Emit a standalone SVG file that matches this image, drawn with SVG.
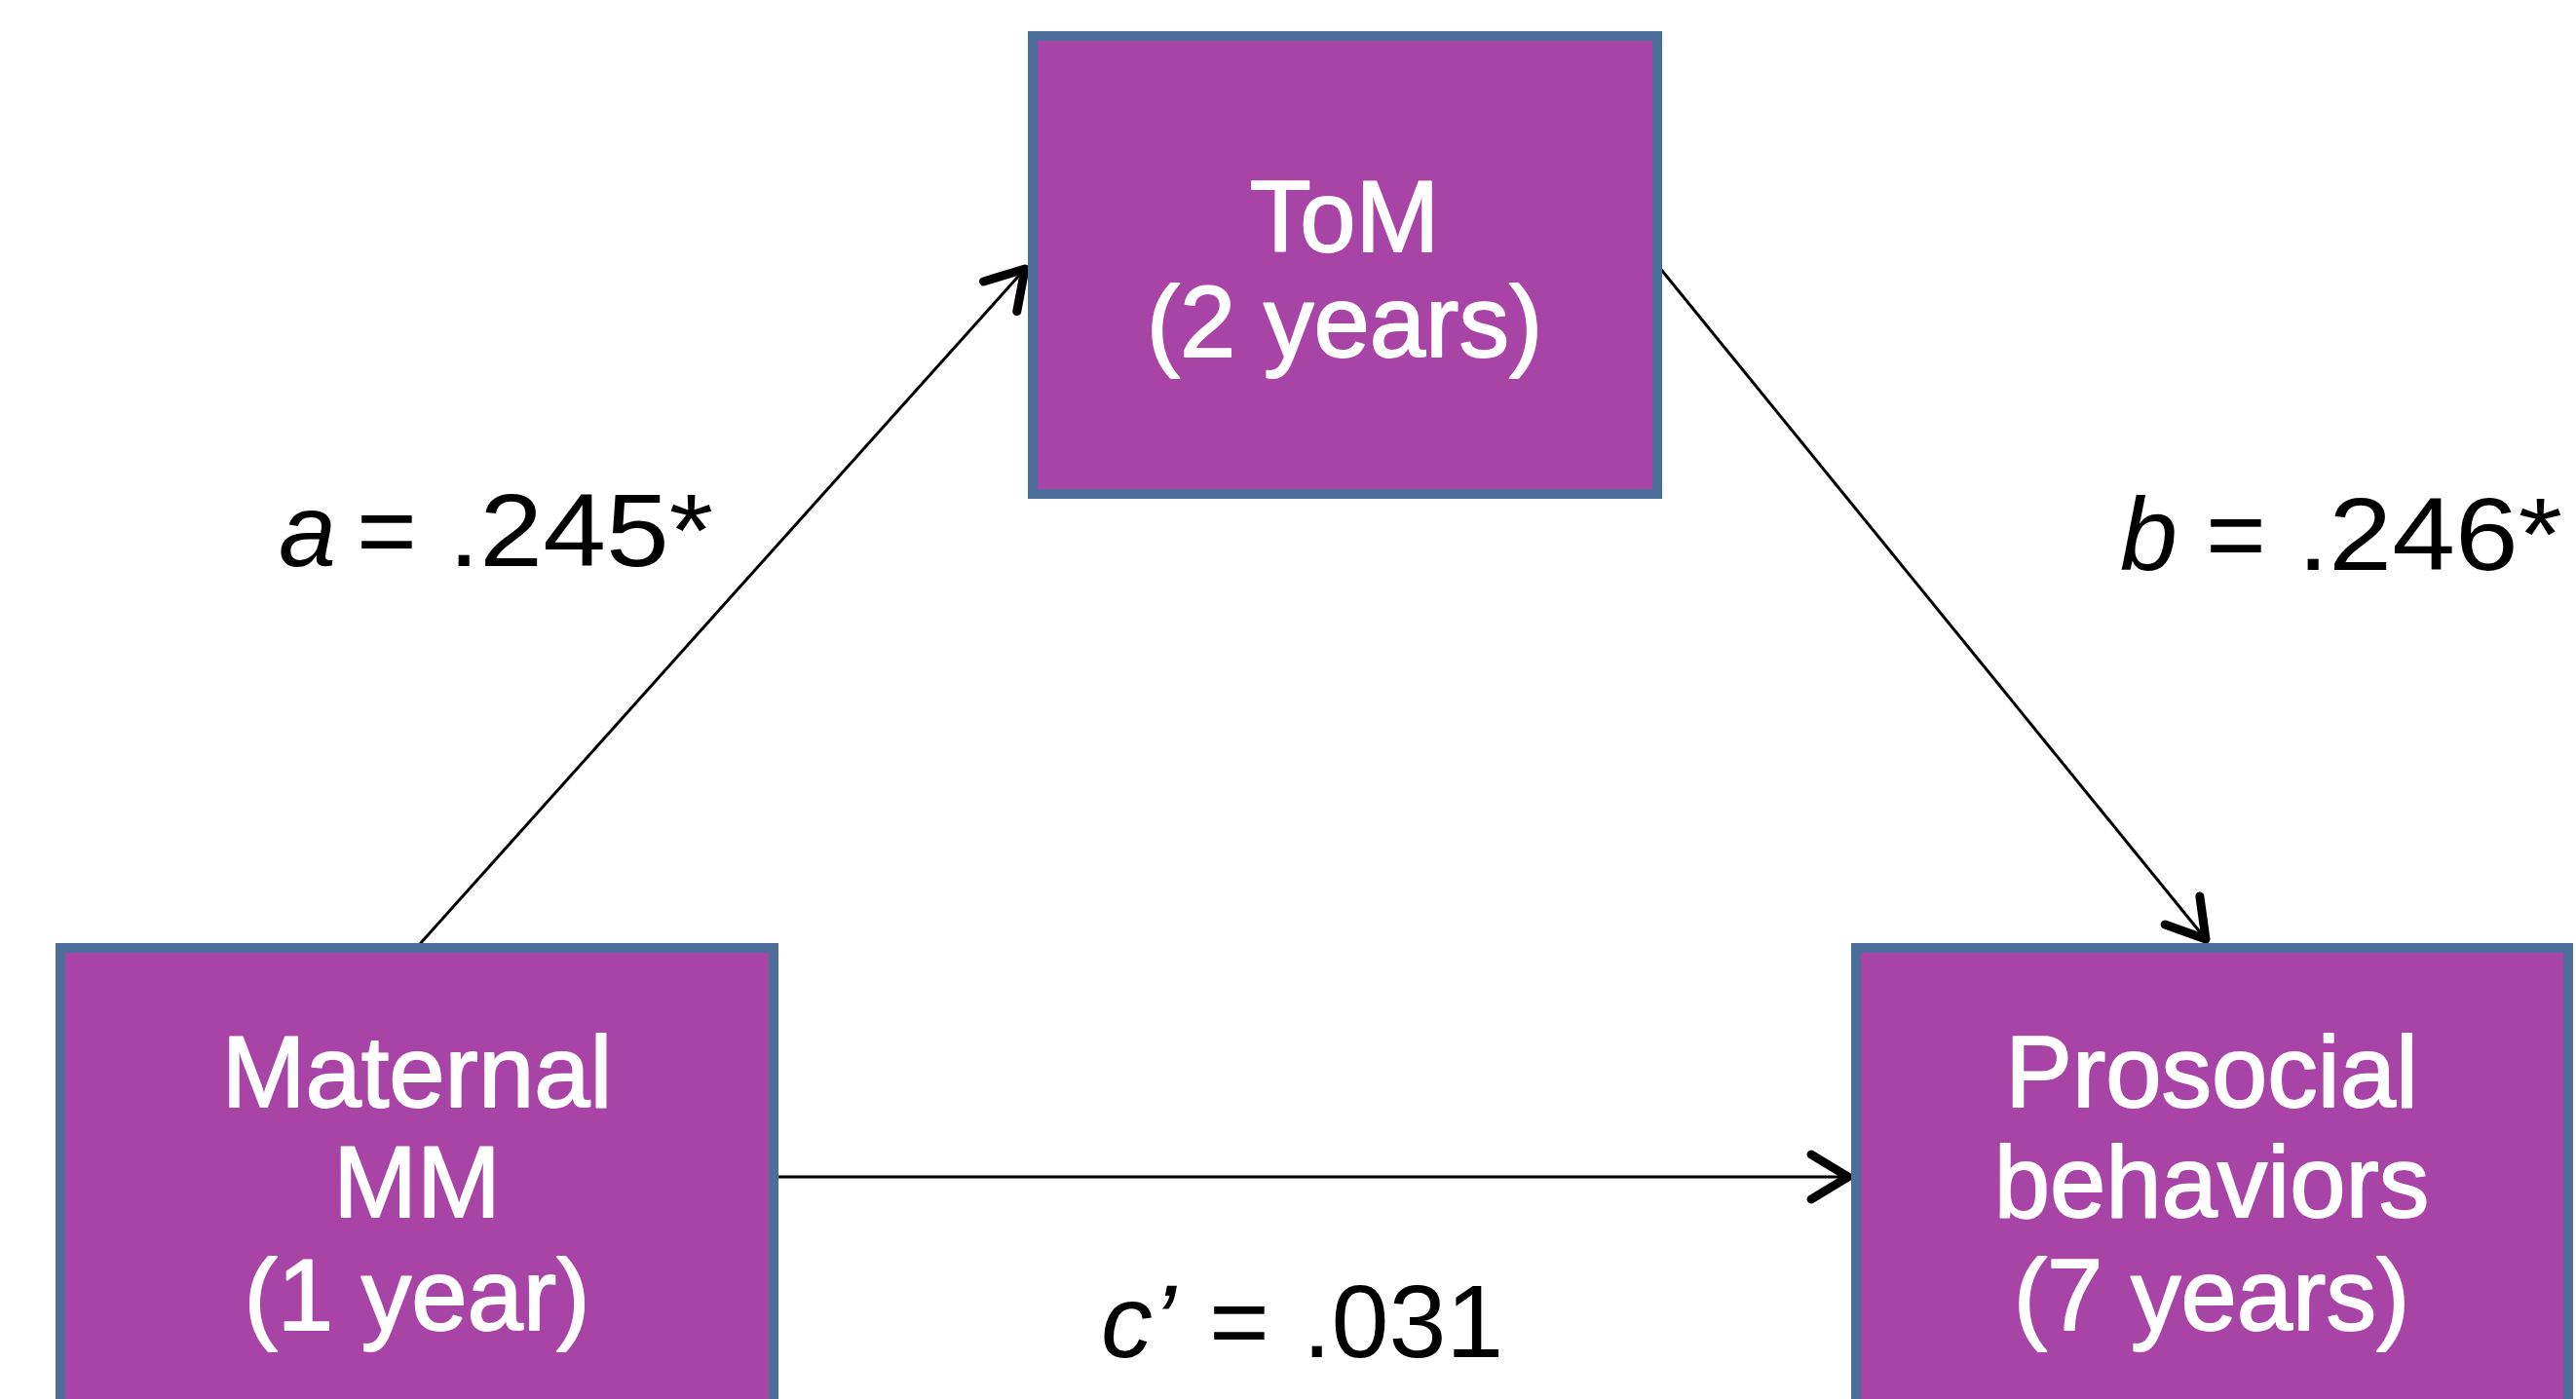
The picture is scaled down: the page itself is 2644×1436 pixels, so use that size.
<svg xmlns="http://www.w3.org/2000/svg" width="2644" height="1436" viewBox="0 0 2644 1436">
  <style>
    .box { fill: #a944a7; stroke: #4b6f9a; stroke-width: 10; }
    .node-text { font-family: "Liberation Sans", Arial, sans-serif; font-size: 103px; fill: #ffffff; stroke: #ffffff; stroke-width: 1.8; stroke-linejoin: round; text-anchor: middle; }
    .label { font-family: "Liberation Sans", Arial, sans-serif; font-size: 106px; fill: #000000; }
    .it { font-style: italic; }
    .edge { stroke: #000000; stroke-width: 3; fill: none; marker-end: url(#arrow); }
  </style>
  <defs>
    <marker id="arrow" markerUnits="userSpaceOnUse" viewBox="-50 -35 60 70" markerWidth="60" markerHeight="70" refX="0" refY="0" orient="auto">
      <path d="M-38,-23 L0,0 L-38,23" fill="none" stroke="#000000" stroke-width="9" stroke-linecap="round" stroke-linejoin="round"/>
    </marker>
  </defs>
  <rect width="2644" height="1436" fill="#ffffff"/>

  <!-- paths a, b and c' between the three measures -->
  <g id="connectors">
    <line id="edge-a" class="edge" x1="430" y1="970" x2="1052" y2="276"/>
    <line id="edge-b" class="edge" x1="1702" y1="273" x2="2264" y2="964"/>
    <line id="edge-c" class="edge" x1="796" y1="1208" x2="1897" y2="1208"/>
  </g>

  <g id="node-tom">
    <rect class="box" x="1060" y="37" width="641" height="470"/>
    <text class="node-text" x="1380" y="258">ToM</text>
    <text class="node-text" x="1380" y="366">(2 years)</text>
  </g>

  <g id="node-maternal">
    <rect class="box" x="62" y="973" width="732" height="500"/>
    <text class="node-text" x="428" y="1136">Maternal</text>
    <text class="node-text" x="428" y="1249">MM</text>
    <text class="node-text" x="428" y="1365">(1 year)</text>
  </g>

  <g id="node-prosocial">
    <rect class="box" x="1905" y="973" width="731" height="500"/>
    <text class="node-text" x="2270" y="1136">Prosocial</text>
    <text class="node-text" x="2270" y="1249">behaviors</text>
    <text class="node-text" x="2270" y="1365">(7 years)</text>
  </g>

  <g id="edge-labels">
    <text class="label" y="581"><tspan class="it" x="286">a</tspan><tspan x="366">=</tspan><tspan x="460" textLength="272" lengthAdjust="spacingAndGlyphs">.245*</tspan></text>
    <text class="label" y="585"><tspan class="it" x="2176">b</tspan><tspan x="2264">=</tspan><tspan x="2358" textLength="272" lengthAdjust="spacingAndGlyphs">.246*</tspan></text>
    <text class="label" y="1393"><tspan class="it" x="1130">c’</tspan><tspan x="1241">=</tspan><tspan x="1337">.031</tspan></text>
  </g>
</svg>
